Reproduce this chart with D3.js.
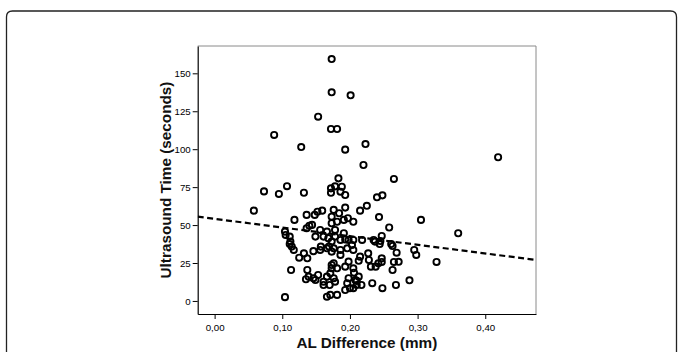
<!DOCTYPE html>
<html>
<head>
<meta charset="utf-8">
<script src="https://cdn.jsdelivr.net/npm/d3@7/dist/d3.min.js"></script>
<style>
  html, body { margin: 0; padding: 0; background: #fff; }
  svg { display: block; font-family: "Liberation Sans", Arial, sans-serif; }
</style>
</head>
<body>
<svg id="chart" width="678" height="352"></svg>
<script>
// AL difference (mm) for each eye
const alDiff = [
  0.173, 0.173, 0.201, 0.153, 0.172, 0.181, 0.088, 0.128, 0.193, 0.223, 0.419, 0.220,
  0.265, 0.183, 0.107, 0.073, 0.095, 0.132, 0.172, 0.172, 0.178, 0.188, 0.186, 0.193,
  0.240, 0.248, 0.058, 0.193, 0.225, 0.215, 0.176,
  0.118, 0.136, 0.148, 0.152, 0.159, 0.140, 0.136, 0.144, 0.173, 0.173, 0.178, 0.166,
  0.156, 0.178, 0.161, 0.149, 0.104, 0.105, 0.111, 0.243, 0.258, 0.305, 0.360, 0.184,
  0.197, 0.191, 0.181, 0.205, 0.191, 0.198, 0.205, 0.218,
  0.112, 0.114, 0.117, 0.111, 0.125, 0.132, 0.137, 0.146, 0.157, 0.166, 0.156, 0.173,
  0.168, 0.169, 0.173, 0.247, 0.237, 0.244, 0.261, 0.263, 0.269, 0.295, 0.298, 0.186,
  0.193, 0.235, 0.245, 0.176, 0.186, 0.196, 0.203, 0.205, 0.186, 0.227, 0.215, 0.213,
  0.228, 0.231, 0.242, 0.247, 0.247, 0.238,
  0.176, 0.173, 0.181, 0.193, 0.198, 0.205, 0.272, 0.265, 0.263, 0.328, 0.113, 0.137,
  0.139, 0.146, 0.153, 0.161, 0.149, 0.135, 0.171, 0.166, 0.176, 0.173,
  0.178, 0.198, 0.196, 0.210, 0.206, 0.213, 0.208, 0.210, 0.217, 0.205, 0.200, 0.193,
  0.181, 0.171, 0.166, 0.170, 0.233, 0.248, 0.268, 0.288, 0.104, 0.161
];
// Ultrasound time (seconds)
const usTime = [
  159.4, 137.5, 135.5, 121.4, 113.3, 113.3, 109.4, 101.4, 99.7, 103.4, 94.7, 89.6,
  80.4, 80.8, 75.6, 72.2, 70.5, 71.3, 74.2, 71.3, 75.5, 75.3, 72.0, 69.8,
  68.3, 69.6, 59.5, 61.5, 62.7, 59.5, 60.0,
  53.4, 56.7, 56.7, 58.8, 59.5, 49.6, 47.9, 50.1, 55.5, 51.2, 46.8, 45.7,
  46.8, 42.4, 42.4, 42.4, 45.7, 43.5, 42.4, 55.3, 48.4, 53.4, 44.6, 57.8,
  54.5, 53.4, 52.2, 52.2, 44.6, 40.2, 40.2, 40.2,
  39.1, 35.8, 33.6, 37.5, 28.5, 31.4, 28.1, 32.8, 35.8, 34.7, 33.6, 39.1,
  41.3, 35.8, 32.5, 42.8, 39.1, 37.5, 37.5, 36.2, 31.8, 33.6, 30.3, 40.2,
  40.5, 40.2, 39.5, 34.7, 33.6, 34.7, 36.9, 33.6, 30.3, 31.4, 29.2, 26.5,
  27.0, 22.6, 24.8, 28.1, 25.7, 22.6,
  24.8, 21.5, 21.5, 22.6, 25.9, 21.5, 25.8, 25.7, 20.4, 25.7, 20.4, 20.4,
  16.0, 15.0, 17.1, 12.7, 13.8, 14.3, 18.2, 16.0, 15.0, 23.7,
  12.7, 15.0, 11.7, 13.2, 18.6, 16.0, 13.8, 10.5, 10.5, 8.4, 8.4, 7.2,
  4.0, 4.0, 2.8, 10.5, 11.7, 8.4, 10.5, 13.6, 2.5, 10.5
];
const xTicks = [0, 0.1, 0.2, 0.3, 0.4];
const yTicks = [0, 25, 50, 75, 100, 125, 150];
// fitted linear regression line
const fitIntercept = 54.1;
const fitSlope = -57;

const svg = d3.select('#chart');
const W = 678, H = 352;
const plot = { left: 197.7, right: 536, top: 46, bottom: 314 };

// outer panel frame (rounded top, continues below the view)
svg.append('path')
  .attr('d', `M6.5,${H + 10} L6.5,17 Q6.5,11 12.5,11 L670.5,11 Q676.5,11 676.5,17 L676.5,${H + 10}`)
  .attr('fill', 'none').attr('stroke', '#222').attr('stroke-width', 1.3);

const x = d3.scaleLinear().domain([-0.025, 0.475]).range([plot.left, plot.right]);
const y = d3.scaleLinear().domain([-8.6, 168]).range([plot.bottom, plot.top]);

// plot box: top/right gray
svg.append('path')
  .attr('d', `M${plot.left},${plot.top} L${plot.right},${plot.top} L${plot.right},${plot.bottom}`)
  .attr('fill', 'none').attr('stroke', '#8a8a8a').attr('stroke-width', 1);

const fmt = d => d3.format('.2f')(d).replace('.', ',');

const xAxis = svg.append('g')
  .attr('transform', `translate(0,${plot.bottom})`)
  .call(d3.axisBottom(x).tickValues(xTicks).tickFormat(fmt).tickSize(5).tickSizeOuter(0));
const yAxis = svg.append('g')
  .attr('transform', `translate(${plot.left},0)`)
  .call(d3.axisLeft(y).tickValues(yTicks).tickSize(5).tickSizeOuter(0));

[xAxis, yAxis].forEach(a => {
  a.select('.domain').attr('stroke', '#000').attr('stroke-width', 1.2);
  a.selectAll('.tick line').attr('stroke', '#000').attr('stroke-width', 1);
  a.selectAll('.tick text').attr('fill', '#000')
    .style('font-family', '"Liberation Sans", Arial, sans-serif').style('font-size', '9.7px');
});
xAxis.selectAll('.tick text').attr('dy', '0.95em');
yAxis.selectAll('.tick text').attr('x', -7);

// regression line (clipped to plot)
svg.append('clipPath').attr('id', 'clip').append('rect')
  .attr('x', plot.left).attr('y', plot.top)
  .attr('width', plot.right - plot.left).attr('height', plot.bottom - plot.top);

const [x0, x1] = x.domain();
svg.append('line')
  .attr('clip-path', 'url(#clip)')
  .attr('x1', x(x0)).attr('y1', y(fitIntercept + fitSlope * x0))
  .attr('x2', x(x1)).attr('y2', y(fitIntercept + fitSlope * x1))
  .attr('stroke', '#000').attr('stroke-width', 2.2).attr('stroke-dasharray', '6,3.5');

// scatter points
svg.append('g').selectAll('circle')
  .data(alDiff.map((v, i) => [v, usTime[i]]))
  .join('circle')
  .attr('cx', d => x(d[0])).attr('cy', d => y(d[1]))
  .attr('r', 3.1).attr('fill', 'none')
  .attr('stroke', '#000').attr('stroke-width', 1.9);

// axis titles
svg.append('text')
  .attr('x', (plot.left + plot.right) / 2).attr('y', 347.5)
  .attr('text-anchor', 'middle')
  .style('font-size', '15.3px').style('font-weight', 'bold').attr('fill', '#111')
  .text('AL Difference (mm)');
svg.append('text')
  .attr('transform', `translate(170.5,${(plot.top + plot.bottom) / 2}) rotate(-90)`)
  .attr('text-anchor', 'middle')
  .style('font-size', '15.3px').style('font-weight', 'bold').attr('fill', '#111')
  .text('Ultrasound Time (seconds)');
</script>
</body>
</html>
